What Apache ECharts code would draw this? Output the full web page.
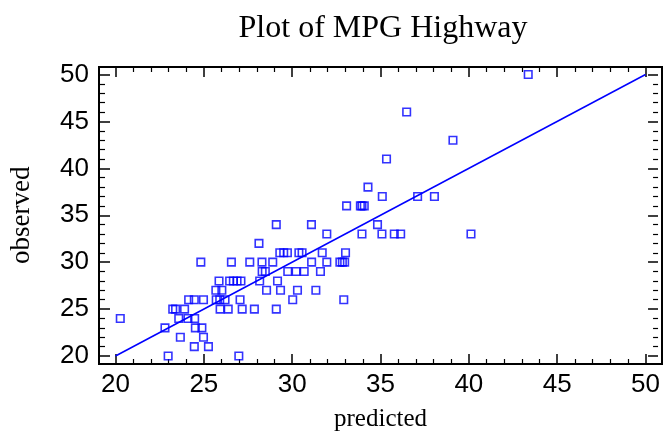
<!DOCTYPE html>
<html>
<head>
<meta charset="utf-8">
<script src="https://cdn.jsdelivr.net/npm/echarts@6/dist/echarts.min.js"></script>
<style>
  html, body { margin: 0; padding: 0; background: #fff; }
  #chart { width: 663px; height: 438px; }
</style>
</head>
<body>
<div id="chart"></div>
<script>
// values
var predicted = [
    22.98, 26.98,
    24.46, 25.26,
    23.67, 24.98,
    22.8, 24.52, 24.89,
    20.27, 23.58, 24.1, 24.48,
    23.24, 23.4, 23.91, 25.92, 26.38, 27.17, 27.86, 29.1,
    24.14, 24.46, 24.98, 25.7, 25.9, 26.2, 27.05, 30.03, 32.92,
    25.68, 26.02, 28.55, 29.34, 30.3, 31.34,
    25.86, 26.46, 26.67, 26.88, 27.1, 28.16, 29.17,
    28.3, 28.48, 29.75, 30.22, 30.68, 31.6,
    24.83, 26.56, 27.6, 28.29, 28.9, 31.1, 31.96, 32.7, 32.84, 32.97,
    29.3, 29.52, 29.73, 30.38, 30.56, 31.7, 33.02,
    28.12,
    31.96, 33.95, 35.08, 35.78, 36.14, 40.12,
    29.1, 31.09, 34.83,
    33.08, 33.86, 33.95, 34.08,
    35.1, 37.1, 38.05,
    34.29,
    35.34,
    39.1,
    36.48,
    43.36
];
var observed = [
    20, 20,
    21, 21,
    22, 22,
    23, 23, 23,
    24, 24, 24, 24,
    25, 25, 25, 25, 25, 25, 25, 25,
    26, 26, 26, 26, 26, 26, 26, 26, 26,
    27, 27, 27, 27, 27, 27,
    28, 28, 28, 28, 28, 28, 28,
    29, 29, 29, 29, 29, 29,
    30, 30, 30, 30, 30, 30, 30, 30, 30, 30,
    31, 31, 31, 31, 31, 31, 31,
    32,
    33, 33, 33, 33, 33, 33,
    34, 34, 34,
    36, 36, 36, 36,
    37, 37, 37,
    38,
    41,
    43,
    46,
    50
];
var diagX = [20, 50];
var diagY = [20, 50];

var points = predicted.map(function (p, i) { return [p, observed[i]]; });
var diag = diagX.map(function (v, i) { return [v, diagY[i]]; });

var myChart = echarts.init(document.getElementById('chart'));

var tickCommon = {
    axisLine: { show: false },
    axisTick: { show: true, inside: true, length: 10, lineStyle: { color: '#000', width: 1.5 } },
    minorTick: { show: true, splitNumber: 5, length: 5, lineStyle: { color: '#000', width: 1.2 } },
    splitLine: { show: false }
};

var option = {
    animation: false,
    title: {
        text: 'Plot of MPG Highway',
        left: 378,
        top: 8,
        textAlign: 'center',
        textStyle: { fontFamily: 'Liberation Serif', fontWeight: 'normal', fontSize: 32, color: '#000' }
    },
    grid: { left: 114.5, right: 13.5, top: 74.5, bottom: 82 },
    graphic: [{
        type: 'rect',
        shape: { x: 99, y: 67, width: 563, height: 297 },
        style: { fill: null, stroke: '#000', lineWidth: 2 },
        silent: true
    }],
    xAxis: [
        Object.assign({
            type: 'value', position: 'bottom', min: 20, max: 50, interval: 5, offset: 8,
            name: 'predicted', nameLocation: 'middle', nameGap: 43,
            nameTextStyle: { fontFamily: 'Liberation Serif', fontSize: 25, color: '#000' },
            axisLabel: { fontFamily: 'Liberation Sans', fontSize: 26, color: '#000', margin: 8 }
        }, tickCommon),
        Object.assign({
            type: 'value', position: 'top', min: 20, max: 50, interval: 5, offset: 7.5,
            axisLabel: { show: false }
        }, tickCommon)
    ],
    yAxis: [
        Object.assign({
            type: 'value', position: 'left', min: 20, max: 50, interval: 5, offset: 15.5,
            name: 'observed', nameLocation: 'middle', nameGap: 65,
            nameTextStyle: { fontFamily: 'Liberation Serif', fontSize: 27, color: '#000' },
            axisLabel: { fontFamily: 'Liberation Sans', fontSize: 26, color: '#000', margin: 11 }
        }, tickCommon),
        Object.assign({
            type: 'value', position: 'right', min: 20, max: 50, interval: 5, offset: 12.5,
            axisLabel: { show: false }
        }, tickCommon)
    ],
    series: [
        {
            type: 'line',
            data: diag,
            symbol: 'none',
            lineStyle: { color: '#0000ff', width: 1.5 },
            silent: true
        },
        {
            type: 'scatter',
            data: points,
            symbol: 'rect',
            symbolSize: 7.5,
            itemStyle: { color: 'rgba(0,0,0,0)', borderColor: '#0000ff', borderWidth: 1.6 }
        }
    ]
};

myChart.setOption(option);
</script>
</body>
</html>
